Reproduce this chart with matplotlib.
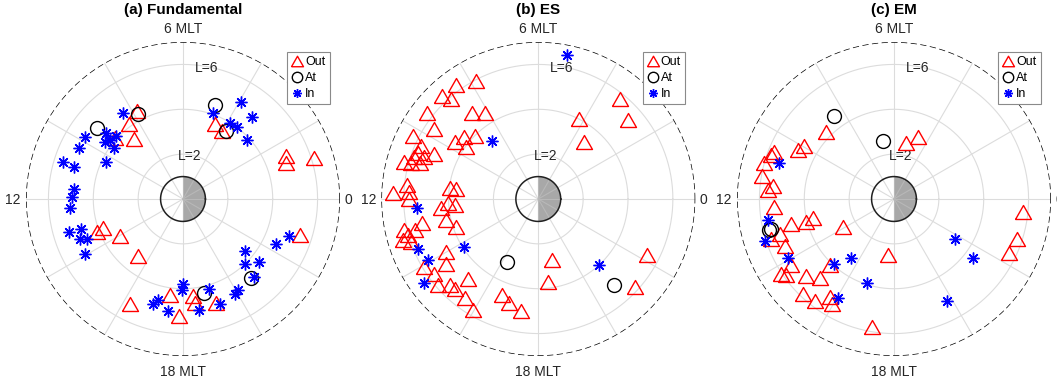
import numpy as np
import matplotlib
matplotlib.use("Agg")
import matplotlib.pyplot as plt

plt.rcParams["font.family"] = ["Liberation Sans", "DejaVu Sans"]

# ---------------- data: event locations (MLT in hours, L-shell) ----------------
titles = ["(a) Fundamental", "(b) ES", "(c) EM"]
legend_labels = ["Out", "At", "In"]

fund_out_mlt = [7.85, 8.38, 8.61, 9.22, 4.46, 4.03, 1.51, 1.27, 1.15, 22.87,
                13.33, 13.42, 14.01, 15.47, 16.21, 17.49, 17.88, 18.38, 18.44, 19.18]
fund_out_L = [4.45, 4.12, 3.45, 4.08, 3.65, 3.50, 5.00, 4.88, 6.11, 5.44,
              3.80, 4.10, 3.26, 3.23, 5.24, 4.34, 5.24, 4.36, 4.67, 4.87]
fund_at_mlt = [7.85, 9.36, 4.76, 3.87, 20.71, 18.84]
fund_at_L = [4.29, 4.96, 4.41, 3.59, 4.65, 4.30]
fund_in_mlt = [8.33, 9.85, 10.25, 10.86, 10.92, 9.29, 9.58, 9.12, 9.58, 10.26,
               9.41, 11.66, 11.92, 12.31, 13.07, 13.11, 13.43, 13.53, 13.95,
               4.70, 3.94, 3.33, 3.88, 3.53, 2.83,
               22.71, 22.27, 21.35, 20.93, 21.35, 20.81, 20.07, 19.93,
               17.99, 17.94, 19.09, 16.92, 17.08, 17.48, 18.55, 19.30]
fund_in_L = [4.67, 5.18, 5.19, 5.58, 5.04, 4.51, 4.33, 4.08, 3.83, 3.80,
             4.20, 4.86, 4.94, 5.05, 5.27, 4.74, 4.93, 4.63, 5.03,
             4.07, 5.03, 4.78, 3.99, 4.00, 3.87,
             5.00, 4.63, 3.61, 4.00, 4.39, 4.69, 4.72, 4.82,
             3.78, 4.07, 4.17, 4.87, 4.63, 5.05, 4.98, 4.96]

es_out_mlt = [7.84, 8.39, 8.87, 8.73, 9.49, 9.73, 8.50, 8.13, 10.23, 9.70,
              9.33, 9.03, 9.63, 10.38, 10.61, 10.43, 10.97, 10.95, 10.87, 10.65,
              10.75, 11.85, 11.59, 11.78, 12.00, 11.54, 11.55, 12.37, 12.18, 12.27,
              12.86, 13.27, 12.87, 13.03, 12.94, 12.79, 13.13, 13.24, 13.99, 14.34,
              14.05, 14.38, 14.71, 14.95, 15.13, 15.24, 15.56, 15.97, 16.61, 16.96,
              17.43, 18.83, 18.46, 4.22, 3.40, 3.39, 2.76, 22.18, 21.17]
es_out_L = [5.96, 6.26, 6.27, 5.91, 6.28, 5.59, 4.83, 4.52, 6.25, 4.48,
            4.33, 3.98, 3.95, 5.76, 5.75, 5.05, 6.19, 5.89, 5.51, 5.41,
            5.83, 6.50, 5.90, 5.79, 5.75, 3.98, 3.71, 4.35, 4.03, 3.74,
            4.21, 3.87, 6.13, 6.04, 5.69, 5.29, 6.32, 5.98, 4.73, 5.01,
            5.91, 5.70, 5.91, 5.52, 5.47, 4.74, 5.50, 5.73, 4.60, 4.82,
            5.06, 2.77, 3.73, 3.99, 3.25, 5.75, 5.31, 5.46, 5.82]
es_at_mlt = [16.25, 20.77]
es_at_L = [3.13, 5.11]
es_in_mlt = [5.25, 8.56, 12.29, 13.49, 13.92, 14.42, 14.19, 20.84]
es_in_L = [6.53, 3.31, 5.43, 5.81, 5.62, 6.30, 3.94, 3.97]

em_out_mlt = [9.02, 10.19, 9.98, 10.58, 10.68, 10.97, 11.33, 11.59, 11.73, 12.24,
              12.89, 12.97, 12.90, 13.95, 13.12, 13.57, 14.19, 14.23, 14.35, 14.76,
              15.12, 15.06, 15.09, 15.48, 15.79, 15.97, 5.19, 4.56, 17.61, 17.34,
              23.62, 22.81, 22.31, 13.21]
em_out_L = [4.24, 4.81, 4.65, 5.72, 5.82, 6.02, 5.97, 5.43, 5.64, 5.37,
            4.74, 4.04, 3.71, 2.60, 5.33, 5.29, 5.45, 6.03, 5.89, 5.21,
            4.84, 4.12, 5.88, 5.77, 5.23, 5.45, 2.55, 2.95, 2.52, 5.80,
            5.79, 5.77, 5.67, 5.77]
em_at_mlt = [8.39, 6.75, 12.93, 12.91]
em_at_L = [4.55, 2.62, 5.75, 5.65]
em_in_mlt = [10.84, 12.63, 13.20, 13.93, 15.13, 15.60, 16.79, 16.04, 21.78, 21.56, 19.83]
em_in_L = [5.35, 5.70, 6.04, 5.41, 3.94, 3.23, 3.93, 5.07, 3.27, 4.39, 5.13]

panel_data = [
    ((fund_out_mlt, fund_out_L), (fund_at_mlt, fund_at_L), (fund_in_mlt, fund_in_L)),
    ((es_out_mlt, es_out_L), (es_at_mlt, es_at_L), (es_in_mlt, es_in_L)),
    ((em_out_mlt, em_out_L), (em_at_mlt, em_at_L), (em_in_mlt, em_in_L)),
]

# ---------------- styling ----------------
L_MAX = 7
grid_L = [2, 4, 6]
grid_col = "#dcdcdc"
text_col = "#262626"

# slightly flattened triangle, centred on its bounding box
tri = [(-1.0, -0.875), (1.0, -0.875), (0.0, 0.875), (-1.0, -0.875)]
marker_styles = [
    dict(marker=tri, markersize=11.5, markerfacecolor="none", markeredgecolor="red", markeredgewidth=1.0),
    dict(marker="o", markersize=10.0, markerfacecolor="none", markeredgecolor="black", markeredgewidth=1.0),
    dict(marker=(8, 2, 0), markersize=8.5, markerfacecolor="none", markeredgecolor="blue", markeredgewidth=1.0),
]

W, H = 1057, 387
fig = plt.figure(figsize=(W / 100, H / 100), dpi=100)
fig.patch.set_facecolor("white")

centers_x = [183.0, 538.3, 894.0]
center_y = 199.0
radius_px = 157.0


def mlt_to_theta(mlt):
    return np.deg2rad(np.asarray(mlt, dtype=float) * 15.0)


full = np.linspace(0, 2 * np.pi, 721)

for cx, title, groups in zip(centers_x, titles, panel_data):
    ax = fig.add_axes([(cx - radius_px) / W, (H - center_y - radius_px) / H,
                       2 * radius_px / W, 2 * radius_px / H], projection="polar")
    ax.set_theta_zero_location("E")
    ax.set_theta_direction(1)
    ax.set_ylim(0, L_MAX)
    ax.set_xticks([])
    ax.set_yticks([])
    ax.grid(False)
    ax.spines["polar"].set_visible(False)
    ax.patch.set_alpha(0)

    # L-shell circles and MLT spokes every 2 h
    for r in grid_L:
        ax.plot(full, np.full_like(full, r), color=grid_col, lw=0.8, zorder=1)
    for h in range(0, 24, 2):
        t = mlt_to_theta(h)
        ax.plot([t, t], [0, L_MAX], color=grid_col, lw=0.8, zorder=1)

    # Earth with shaded nightside; spokes show faintly through the shading
    half = np.linspace(-np.pi / 2, np.pi / 2, 181)
    ax.fill(np.r_[0, half, 0], np.r_[0, np.ones_like(half), 0],
            color="#a8a8a8", lw=0, zorder=1.5)
    for h in [18, 20, 22, 0, 2, 4, 6]:
        t = mlt_to_theta(h)
        ax.plot([t, t], [0, 1], color="#b8b8b8", lw=0.8, zorder=1.6)
    ax.plot(full, np.ones_like(full), color="#202020", lw=1.1, zorder=3)

    # outer boundary
    ax.plot(full, np.full_like(full, L_MAX), color="black", lw=1.0,
            dashes=(4.5, 2.5), zorder=2)

    # events
    for (mlt, L), lab, sty in zip(groups, legend_labels, marker_styles):
        ax.plot(mlt_to_theta(mlt), L, linestyle="none", label=lab,
                zorder=4, clip_on=False, **sty)

    # MLT labels
    kw = dict(ha="center", va="baseline", fontsize=10, color=text_col)
    ax.text(mlt_to_theta(6), 7.40, "6 MLT", **kw)
    ax.text(mlt_to_theta(18), 7.89, "18 MLT", **kw)
    ax.text(np.deg2rad(181.7), 7.58, "12", **kw)
    ax.text(np.deg2rad(-1.74), 7.38, "0", **kw)

    # L-shell labels
    ax.text(np.deg2rad(79.6), 1.75, "L=2", ha="center", va="baseline", fontsize=10,
            color=text_col, zorder=3)
    ax.text(np.deg2rad(79.4), 5.76, "L=6", ha="center", va="baseline", fontsize=10,
            color=text_col, zorder=3)

    fig.text(cx / W, 1 - 14 / H, title, ha="center", va="baseline",
             fontsize=11, fontweight="bold", color="black")

    leg = ax.legend(loc="upper right", bbox_to_anchor=(0.968, 0.968), borderaxespad=0,
                    fontsize=9, fancybox=False, framealpha=1, edgecolor="#8a8a8a",
                    handlelength=0.9, handletextpad=0.2, borderpad=0.35,
                    labelspacing=0.3, numpoints=1, markerscale=0.75)
    leg.get_frame().set_linewidth(0.8)
    leg.set_zorder(10)

fig.savefig("out.png", dpi=100, facecolor="white")
